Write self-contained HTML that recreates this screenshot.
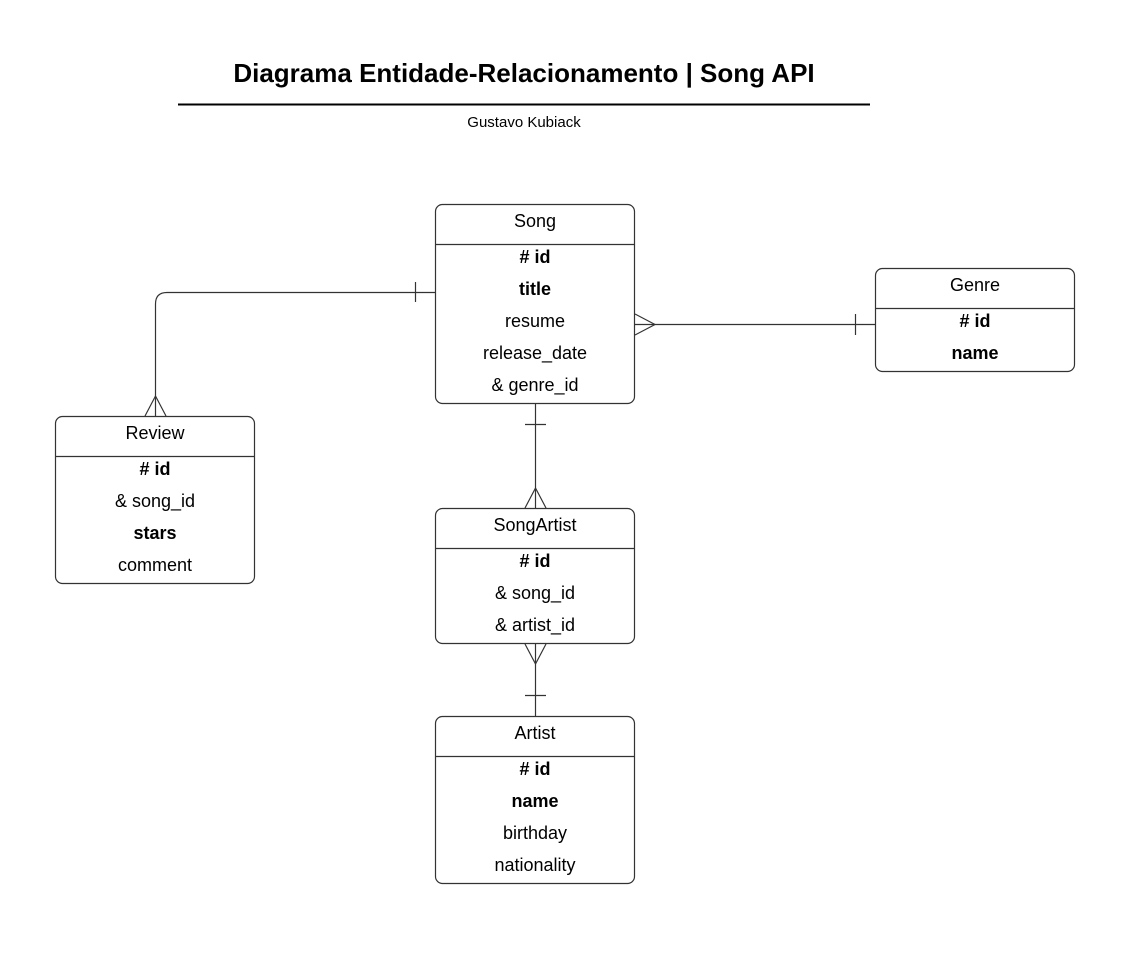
<!DOCTYPE html>
<html><head><style>body{margin:0;background:#fff}</style></head><body>
<svg width="1142" height="949" xmlns="http://www.w3.org/2000/svg" font-family="Liberation Sans, Arial, sans-serif">
<rect width="1142" height="949" fill="#fff"/>
<text x="524" y="82" text-anchor="middle" font-size="26" font-weight="bold">Diagrama Entidade-Relacionamento | Song API</text>
<line x1="178" y1="104.5" x2="870" y2="104.5" stroke="#000" stroke-width="2"/>
<text x="524" y="127" text-anchor="middle" font-size="15">Gustavo Kubiack</text>
<g fill="none" stroke="#333" stroke-width="1.2">
<rect x="435.5" y="204.5" width="199" height="199" rx="7"/><line x1="435" y1="244.5" x2="635" y2="244.5"/>
<rect x="875.5" y="268.5" width="199" height="103" rx="7"/><line x1="875" y1="308.5" x2="1075" y2="308.5"/>
<rect x="55.5" y="416.5" width="199" height="167" rx="7"/><line x1="55" y1="456.5" x2="255" y2="456.5"/>
<rect x="435.5" y="508.5" width="199" height="135" rx="7"/><line x1="435" y1="548.5" x2="635" y2="548.5"/>
<rect x="435.5" y="716.5" width="199" height="167" rx="7"/><line x1="435" y1="756.5" x2="635" y2="756.5"/>
<path d="M435 292.5 H167 Q155.5 292.5 155.5 304 V416"/>
<line x1="415.5" y1="282" x2="415.5" y2="302"/>
<path d="M145 416 L155.5 396 L166 416"/>
<line x1="635" y1="324.5" x2="875" y2="324.5"/>
<path d="M635 314 L655 324.5 L635 335"/>
<line x1="855.5" y1="314" x2="855.5" y2="335"/>
<line x1="535.5" y1="404" x2="535.5" y2="508"/>
<line x1="525" y1="424.5" x2="546" y2="424.5"/>
<path d="M525 508 L535.5 488 L546 508"/>
<line x1="535.5" y1="644" x2="535.5" y2="716"/>
<path d="M525 644 L535.5 664 L546 644"/>
<line x1="525" y1="695.5" x2="546" y2="695.5"/>
</g>
<g font-size="18" text-anchor="middle" fill="#000">
<text x="535" y="227">Song</text>
<text x="535" y="263" font-weight="bold"># id</text>
<text x="535" y="295" font-weight="bold">title</text>
<text x="535" y="327">resume</text>
<text x="535" y="359">release_date</text>
<text x="535" y="391">&amp; genre_id</text>
<text x="975" y="291">Genre</text>
<text x="975" y="327" font-weight="bold"># id</text>
<text x="975" y="359" font-weight="bold">name</text>
<text x="155" y="439">Review</text>
<text x="155" y="475" font-weight="bold"># id</text>
<text x="155" y="507">&amp; song_id</text>
<text x="155" y="539" font-weight="bold">stars</text>
<text x="155" y="571">comment</text>
<text x="535" y="531">SongArtist</text>
<text x="535" y="567" font-weight="bold"># id</text>
<text x="535" y="599">&amp; song_id</text>
<text x="535" y="631">&amp; artist_id</text>
<text x="535" y="739">Artist</text>
<text x="535" y="775" font-weight="bold"># id</text>
<text x="535" y="807" font-weight="bold">name</text>
<text x="535" y="839">birthday</text>
<text x="535" y="871">nationality</text>
</g>
</svg>
</body></html>
